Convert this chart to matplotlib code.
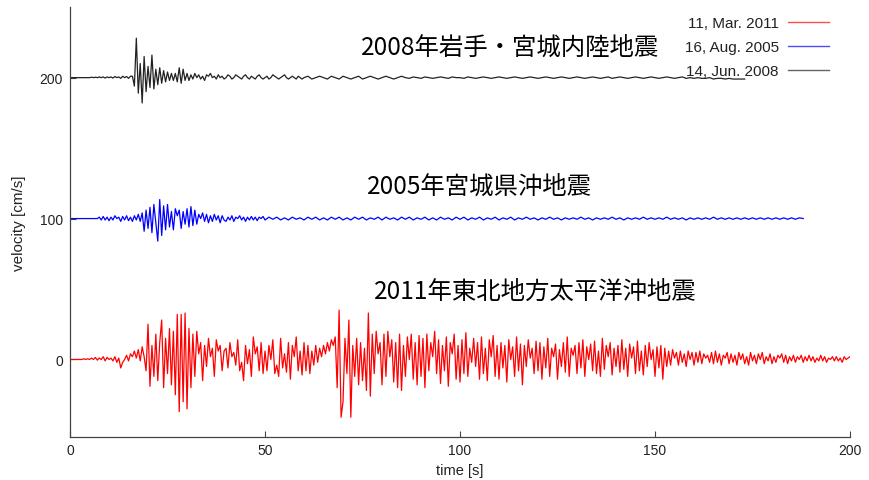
import numpy as np
import matplotlib
matplotlib.use("Agg")
import matplotlib.pyplot as plt

plt.rcParams['font.family'] = ['Liberation Sans', 'DejaVu Sans']

# ---------------- data ----------------
labels = ["11, Mar. 2011", "16, Aug. 2005", "14, Jun. 2008"]
colors = ["#ff0000", "#0000ff", "#222222"]
offsets = [0, 100, 200]
titles = ["2011年東北地方太平洋沖地震", "2005年宮城県沖地震", "2008年岩手・宮城内陸地震"]
title_pos_t = [78.0, 76.2, 74.7]
title_pos_v = [49, 123, 222]

# 2011 trace, 0.5 s sampling, t = 0 ... 200 s
red_v = [
    0, 0, 0, 0, 0, 0, 0, 0.5, 0, 0.5, 0, 1, 0, 1.5, -0.5, 1, 0, 2, -1, 1.5,
    0, 1, -1, 2, -2, 1, -6, -2, 0, 3, -1, 4, 2, 6, 1, 7, -1, 9, 2, -8,
    25, -19, 10, -12, 18, -15, 12, 28, -20, 15, -10, 22, -18, 20, -25, 32, -37, 32, -30, 33,
    -35, 22, -20, 18, -12, 20, 4, 12, -15, 10, -5, 15, 2, 8, -12, 14, 6, 10, -8, 6,
    8, -6, 12, 2, 5, -4, 14, -8, -2, -15, 10, -3, 7, -12, 16, 4, 9, -8, 12, -10,
    6, -8, 10, 0, 14, -10, -4, -12, 15, -6, 4, -9, 12, -14, 10, 2, 16, -8, 6, -11,
    12, -8, 10, -10, 6, -4, 10, -2, 8, 2, 10, 4, 12, 6, 14, 10, 16, -20, 35, -41,
    -30, 15, -10, 28, -41, 10, -12, 15, -18, 12, -15, 8, -22, 33, -26, 18, -10, 20, 4, 12,
    -18, 18, -12, 20, 2, 14, -16, 12, -20, 18, -22, 10, -12, 16, 0, 18, -14, 12, -18, 17,
    -12, 15, -20, 18, -8, 12, 2, 20, -10, 14, -17, 10, -8, 16, -19, 12, 4, 18, -14, 10,
    -16, 14, -10, 19, -12, 8, -2, 15, -5, 12, -14, 16, -10, 8, -15, 14, 2, 17, -12, 10,
    -14, 12, -6, 10, -16, 14, 0, 9, -12, 16, -8, 11, -18, 10, -5, 14, 1, 8, -10, 13,
    -8, 12, -14, 9, -6, 15, -12, 8, 2, 11, -14, 7, -5, 12, -9, 16, -12, 8, 3, 10,
    -10, 12, -6, 14, -12, 9, 0, 11, -8, 13, -10, 6, -12, 15, -7, 10, 2, 12, -11, 8,
    -5, 10, -9, 14, -7, 8, -12, 11, 1, 9, -10, 13, -8, 6, -11, 10, -5, 12, 0, 7,
    -12, 9, -6, 10, -14, 8, -5, 6, -4, 7, 1, 5, -4, 6, -2, 4, -5, 6, 0, 5,
    -4, 5, -2, 6, -3, 4, 1, 3, -2, 5, -3, 6, -2, 4, -4, 3, 1, 5, -3, 4,
    -2, 3, -4, 5, 0, 4, -3, 2, -4, 5, -1, 3, -3, 4, 0, 5, -3, 2, -1, 4,
    -3, 2, -2, 3, 1, 4, -2, 3, -3, 2, -1, 3, -2, 2, 0, 3, -2, 2, -1, 3,
    -1, 2, -2, 1, -1, 3, -1, 2, -2, 1, 0, 2, -1, 2, -1, 1, -2, 2, 0, 1,
    2,
]

# 2005 trace: 0.5 s sampling for 0-49.5 s, then 1 s sampling 50-188 s
blue_fine = [
    0, 0, 0, 0, 0, 0, 0, 0, 0, 0, 0, 0, 0, 0, 0, 1, -1, 1.5, -1, 1,
    -1.5, 1, -1, 2, 0, 1, -2, 1.5, -1, 2, -1.5, 1, -2, 2, -1, 3, -2, 4, -9, 6,
    -7, 8, -10, 10, -3, -16, 13.5, -12, 9, -8, 10, -6, 5, -8, 7, 2, 6, -7, 5, -4,
    7, -6, 8.5, -5, 6, -4, 3, 0, 4, -2, 3, -3, 2, -2, 3, -1, 2, -3, 2, -1,
    -2, 1, -1, 2, -2, 1, 0, 2, -1, 1, -2, 1, -1, 1.5, -1, 1, -1.5, 1, 0, 1.5,
]
blue_coarse = [
    -1, 1, -0.5, 1, -1, 0.5, -1, 1, -0.5, 0.5,
    -1, 1, -0.5, 1, -1, 0.5, -1, 1, -0.5, 1,
    -1, 0.5, -1, 1, -0.5, 1, -1, 0.5, -0.5, 1,
    -1, 1, -0.5, 0.5, -1, 1, -0.5, 1, -1, 0.5,
    -0.5, 1, -1, 0.5, -1, 1, -0.5, 0.5, -1, 1,
    -0.5, 1, -1, 0.5, -0.5, 1, -1, 0.5, -0.5, 1,
    -1, 0.5, -0.5, 1, -1, 0.5, -0.5, 1, -0.5, 0.5,
    -1, 0.5, -0.5, 1, -0.5, 0.5, -1, 0.5, -0.5, 0.5,
    -0.5, 1, -0.5, 0.5, -1, 0.5, -0.5, 0.5, -0.5, 1,
    -0.5, 0.5, -1, 0.5, -0.5, 0.5, -0.5, 1, -0.5, 0.5,
    -0.5, 0.5, -0.5, 1, -0.5, 0.5, -0.5, 0.5, -1, 0.5,
    -0.5, 0.5, -0.5, 0.5, -0.5, 1, -0.5, 0.5, -0.5, 0.5,
    -0.5, 0.5, -0.5, 0.5, -0.5, 0.5, -0.5, 0.5, -0.5, 0.5,
    -0.5, 0.5, -0.5, 0.5, -0.5, 0.5, -0.5, 0.5, 0,
]

# 2008 trace: 0.5 s sampling for 0-59.5 s, then 1 s sampling 60-173 s
black_fine = [
    0, 0, 0, 0, 0, 0, 0, 0, 0, 0, 0, 0.3, 0, 0.3, 0, 0.5, 0, 0.5, -0.3, 0.5,
    0, 0.5, -0.3, 0.8, 0, 0.5, -0.5, 1, 0, 0.8, -0.5, 1, 1, -6, 28, -11, 10, -18, 15, -10,
    8, -7, 16, -8, 6, -5, 7, -4, 5, -3, 4, -2, 3, -2, 3, -3, 7, -4, 6, -2,
    3, -2, 2, -1, 3, 0, 2, -1, 1, -2, 2, 1, 3, 0, 1, -1, 2, 0, 1, -1,
    0, 2, 1, -1, 0, 2, 1, 0, -1, 1, 2, 0, -1, 1, 0, -1, 1, 2, 0, -1,
    0, 1, -1, 0, 2, 1, 0, -1, 0, 1, 2, 0, -1, 0, 1, 0, -1, 1, 0, -1,
]
black_coarse = [
    0, 1, -1, 0, 1, 0, -1, 1, 0, -1,
    1, 0, -1, 0, 1, -1, 0, 1, 0, -1,
    0, 1, 0, -1, 0, 1, 0, -0.5, 0.5, 0,
    -0.5, 0.5, 0, -0.5, 0, 0.5, 0, -0.5, 0.5, 0,
    0, -0.5, 0.5, 0, -0.5, 0, 0.5, 0, -0.5, 0,
    0.5, 0, -0.5, 0, 0.5, 0, -0.5, 0, 0.5, 0,
    -0.5, 0, 0.5, 0, -0.5, 0, 0.5, 0, -0.5, 0,
    0.5, 0, -0.5, 0, 0.5, 0, -0.5, 0, 0.5, -0.5,
    0, 0.5, 0, -0.5, 0, 0.5, 0, -0.5, 0, 0.5,
    0, -0.5, 0, 0.5, 0, -0.5, 0, 0.5, -0.5, 0,
    -0.5, 0, -0.5, -0.5, 0, -1, -0.5, -0.5, -1, -0.5,
    -1, -1, -1, -1,
]

x_ticks = [0, 50, 100, 150, 200]
y_ticks = [0, 100, 200]

# ---------------- build series ----------------
red_t = np.arange(len(red_v)) * 0.5
blue_t = np.concatenate([np.arange(len(blue_fine)) * 0.5,
                         50 + np.arange(len(blue_coarse))])
blue_v = np.array(blue_fine + blue_coarse)
black_t = np.concatenate([np.arange(len(black_fine)) * 0.5,
                          60 + np.arange(len(black_coarse))])
black_v = np.array(black_fine + black_coarse)

series_t = [red_t, blue_t, black_t]
series_v = [np.array(red_v), blue_v, black_v]

# ---------------- plot ----------------
fig = plt.figure(figsize=(8.7, 4.81), dpi=100)
ax = fig.add_axes([0.0805, 0.0894, 0.8965, 0.8936])

for t, v, off, c, lab in zip(series_t, series_v, offsets, colors, labels):
    ax.plot(t, v + off, color=c, lw=0.9, label=lab)

for s, tx, ty in zip(titles, title_pos_t, title_pos_v):
    ax.text(tx, ty, s, fontsize=17.6, va='center', ha='left',
            family=['Noto Sans CJK JP', 'DejaVu Sans'], color='black')

ax.set_xlim(0, 200)
ax.set_ylim(-55, 250)
ax.set_xticks(x_ticks)
ax.set_yticks(y_ticks)
ax.tick_params(direction='in', length=4, width=0.8, colors='#444444',
               labelcolor='#222222', labelsize=10)
ax.tick_params(axis='x', pad=4)
ax.tick_params(axis='y', pad=5)
for sp in ['top', 'right']:
    ax.spines[sp].set_visible(False)
for sp in ['left', 'bottom']:
    ax.spines[sp].set_color('#444444')
    ax.spines[sp].set_linewidth(0.9)

ax.set_xlabel("time [s]", fontsize=10.5, color='#222222', labelpad=5)
ax.set_ylabel("velocity [cm/s]", fontsize=11, color='#222222', labelpad=10)

leg = ax.legend(loc='upper right', frameon=False, markerfirst=False,
                fontsize=11, handlelength=2.7, labelspacing=0.66,
                borderaxespad=0.0, bbox_to_anchor=(0.981, 0.994),
                handletextpad=0.6)
for txt in leg.get_texts():
    txt.set_color('#222222')
for h in leg.legend_handles:
    h.set_linewidth(1.0)
    h.set_alpha(0.7)

fig.savefig("out.png", dpi=100)
